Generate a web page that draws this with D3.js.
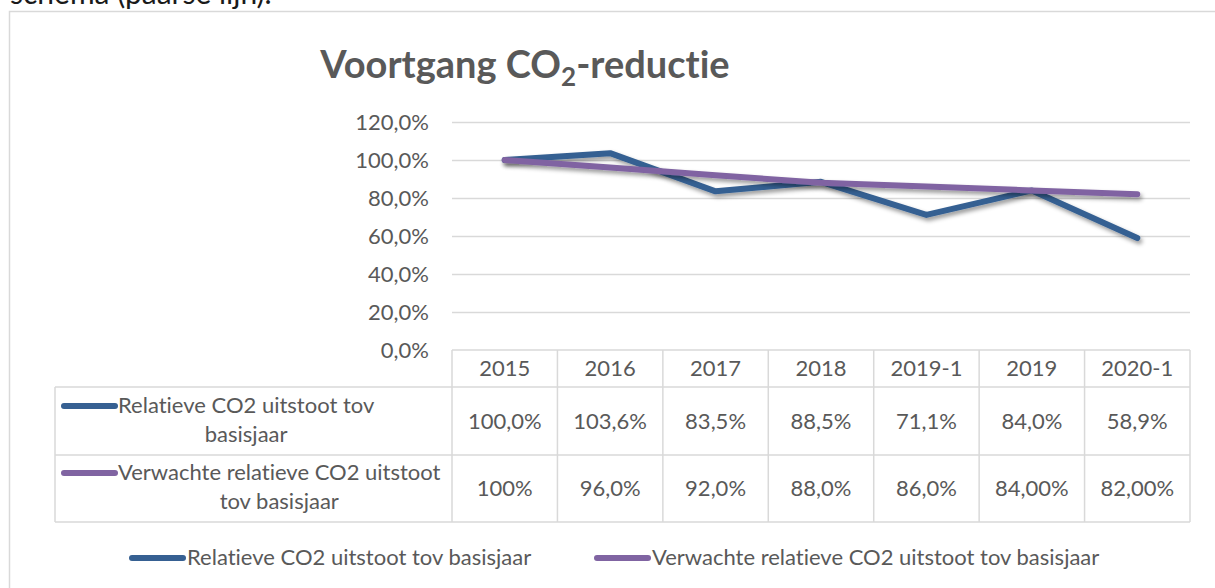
<!DOCTYPE html>
<html>
<head>
<meta charset="utf-8">
<script src="https://cdn.jsdelivr.net/npm/d3@7"></script>
<style>
  body { margin: 0; background: #fff; }
  svg { display: block; font-family: Lato, "Open Sans", sans-serif; font-variant-ligatures: none; }
  svg text { font-variant-ligatures: none; font-feature-settings: "liga" 0, "clig" 0; }
</style>
</head>
<body>
<div id="chart"></div>
<script>
// categories (table header) and series
var categories = ["2015", "2016", "2017", "2018", "2019-1", "2019", "2020-1"];
var actual = [100.0, 103.6, 83.5, 88.5, 71.1, 84.0, 58.9];
var expected = [100, 96.0, 92.0, 88.0, 86.0, 84.0, 82.0];
// table cell texts as shown in the sheet (formats differ per cell)
var actualLabels = ["100,0%", "103,6%", "83,5%", "88,5%", "71,1%", "84,0%", "58,9%"];
var expectedLabels = ["100%", "96,0%", "92,0%", "88,0%", "86,0%", "84,00%", "82,00%"];
var yTicks = [0, 20, 40, 60, 80, 100, 120];

var seriesNames = ["Relatieve CO2 uitstoot tov basisjaar", "Verwachte relatieve CO2 uitstoot tov basisjaar"];
var seriesLines = [["Relatieve CO2 uitstoot tov", "basisjaar"], ["Verwachte relatieve CO2 uitstoot", "tov basisjaar"]];
var colors = ["#366092", "#8064a2"];

var width = 1215, height = 588;
var textColor = "#595959", gridColor = "#d9d9d9";
var fontSize = "22px";

var svg = d3.select("#chart").append("svg")
    .attr("width", width).attr("height", height);

var defs = svg.append("defs");
var f = defs.append("filter").attr("id", "shadow")
    .attr("x", "-10%").attr("y", "-50%").attr("width", "120%").attr("height", "200%");
f.append("feDropShadow").attr("dx", 2).attr("dy", 3).attr("stdDeviation", 2)
    .attr("flood-color", "#000").attr("flood-opacity", 0.4);

// sentence above the chart, cut off by the top edge
svg.append("text").attr("x", 10).attr("y", 4)
    .style("font-size", "30px").style("fill", "#1a1a1a")
    .text("schema (paarse lijn).");

// chart area border
svg.append("rect").attr("x", 9.5).attr("y", 11.5)
    .attr("width", width + 20).attr("height", height + 20)
    .attr("fill", "none").attr("stroke", gridColor).attr("stroke-width", 1.5);

// title
var title = svg.append("text").attr("x", 525).attr("y", 78)
    .attr("text-anchor", "middle")
    .style("font-size", "38px").style("font-weight", "bold").style("fill", textColor);
title.append("tspan").text("Voortgang CO");
title.append("tspan").attr("dy", 8).style("font-size", "26px").text("2");
title.append("tspan").attr("dy", -8).text("-reductie");

var plotLeft = 452, plotRight = 1190, plotTop = 122, plotBottom = 350;

var x = d3.scaleBand().domain(categories).range([plotLeft, plotRight]);
var y = d3.scaleLinear().domain([0, 120]).range([plotBottom, plotTop]);
var fmt = function (d) { return d.toFixed(1).replace(".", ",") + "%"; };

// gridlines
var grid = svg.append("g").attr("transform", "translate(" + plotLeft + ",0)")
    .call(d3.axisLeft(y).tickValues(yTicks.slice(1)).tickSize(-(plotRight - plotLeft)).tickFormat(""));
grid.select(".domain").remove();
grid.selectAll(".tick line").attr("stroke", gridColor).attr("stroke-width", 1.5);

// y axis labels
var yAxis = svg.append("g").attr("transform", "translate(429,0)")
    .call(d3.axisLeft(y).tickValues(yTicks).tickSize(0).tickPadding(0).tickFormat(fmt));
yAxis.select(".domain").remove();
yAxis.selectAll("text").style("font-size", fontSize).style("fill", textColor)
    .style("font-family", "Lato, 'Open Sans', sans-serif");

// lines
var line = d3.line()
    .x(function (d, i) { return x(categories[i]) + x.bandwidth() / 2; })
    .y(function (d) { return y(d); });

[actual, expected].forEach(function (s, i) {
    svg.append("path").datum(s)
        .attr("d", line)
        .attr("fill", "none")
        .attr("stroke", colors[i])
        .attr("stroke-width", 6)
        .attr("stroke-linecap", "round")
        .attr("stroke-linejoin", "round")
        .attr("filter", "url(#shadow)");
});

// data table
var rowTops = [350, 387, 455, 522];
var tbl = svg.append("g").attr("stroke", gridColor).attr("stroke-width", 1.5);
// header row over data columns
tbl.append("line").attr("x1", plotLeft).attr("x2", plotRight).attr("y1", rowTops[0]).attr("y2", rowTops[0]);
[1, 2, 3].forEach(function (r) {
    tbl.append("line").attr("x1", 55).attr("x2", plotRight).attr("y1", rowTops[r]).attr("y2", rowTops[r]);
});
tbl.append("line").attr("x1", 55).attr("x2", 55).attr("y1", rowTops[1]).attr("y2", rowTops[3]);
categories.forEach(function (c) {
    tbl.append("line").attr("x1", x(c)).attr("x2", x(c)).attr("y1", rowTops[0]).attr("y2", rowTops[3]);
});
tbl.append("line").attr("x1", plotRight).attr("x2", plotRight).attr("y1", rowTops[0]).attr("y2", rowTops[3]);

var cellText = svg.append("g").attr("text-anchor", "middle")
    .style("font-size", fontSize).style("fill", textColor);
var rows = [categories, actualLabels, expectedLabels];
rows.forEach(function (vals, r) {
    cellText.selectAll(null).data(vals).enter().append("text")
        .attr("x", function (d, i) { return x(categories[i]) + x.bandwidth() / 2; })
        .attr("y", (rowTops[r] + rowTops[r + 1]) / 2)
        .attr("dy", "0.35em")
        .text(function (d) { return d; });
});

// row headers with legend keys
var rowBase = [[413, 442], [480, 509]];
seriesLines.forEach(function (lines, i) {
    var g = svg.append("g");
    g.append("line").attr("x1", 64).attr("x2", 115)
        .attr("y1", rowBase[i][0] - 7).attr("y2", rowBase[i][0] - 7)
        .attr("stroke", colors[i]).attr("stroke-width", 6).attr("stroke-linecap", "round");
    var t0 = g.append("text").attr("x", 118).attr("y", rowBase[i][0])
        .style("font-size", fontSize).style("fill", textColor).text(lines[0]);
    var w = t0.node().getComputedTextLength();
    g.append("text").attr("x", 118 + w / 2).attr("y", rowBase[i][1])
        .attr("text-anchor", "middle")
        .style("font-size", fontSize).style("fill", textColor).text(lines[1]);
});

// legend
var legendX = [129, 594];
seriesNames.forEach(function (name, i) {
    var g = svg.append("g");
    g.append("line").attr("x1", legendX[i] + 3).attr("x2", legendX[i] + 54)
        .attr("y1", 558).attr("y2", 558)
        .attr("stroke", colors[i]).attr("stroke-width", 6).attr("stroke-linecap", "round");
    g.append("text").attr("x", legendX[i] + 58).attr("y", 565)
        .style("font-size", fontSize).style("fill", textColor).text(name);
});
</script>
</body>
</html>
